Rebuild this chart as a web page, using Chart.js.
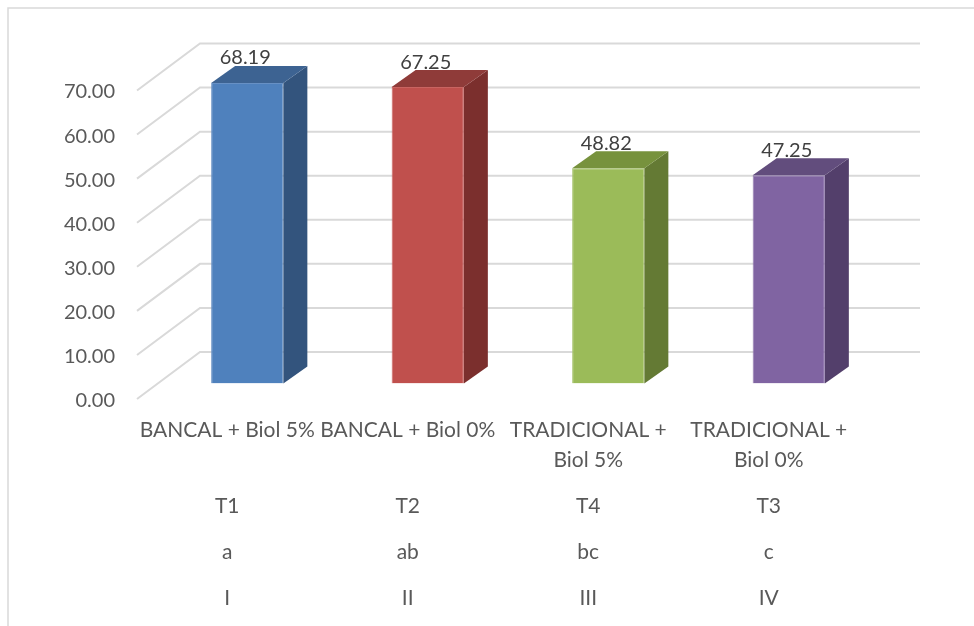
<!DOCTYPE html>
<html lang="es">
<head>
    <meta charset="utf-8" />
    <meta name="viewport" content="width=device-width" />
    <script src="https://cdn.jsdelivr.net/npm/chart.js@4.4.1/dist/chart.umd.min.js"></script>
    <style>
        html, body { margin: 0; padding: 0; background: #ffffff; }
        #box { position: relative; width: 974px; height: 626px; }
    </style>
    <script>
        // datos del grafico
        var categorias = [["BANCAL + Biol 5%"], ["BANCAL + Biol 0%"], ["TRADICIONAL +", "Biol 5%"], ["TRADICIONAL +", "Biol 0%"]];
        var tratamientos = ["T1", "T2", "T4", "T3"];
        var letras = ["a", "ab", "bc", "c"];
        var grupos = ["I", "II", "III", "IV"];
        var valores = [68.19, 67.25, 48.82, 47.25];
        var yTicks = [0, 10, 20, 30, 40, 50, 60, 70];

        // colores de las caras (frente, arriba, lado)
        var colFrente = ['#4F81BD', '#C0504D', '#9BBB59', '#8064A2'];
        var colBorde = ['#6790C4', '#C96461', '#A8C46E', '#9079AE'];
        var colArriba = ['#3D6392', '#8F3B39', '#77923D', '#624D7D'];
        var colLado = ['#33547D', '#7B2F2D', '#647A34', '#533F6B'];
    </script>
</head>
<body>
    <div id="box">
        <canvas id="grafico"></canvas>
    </div>

    <script>
        // etiquetas de varias filas: nombre, tratamiento, letra, grupo
        // (las lineas vacias sirven para separar las filas)
        var etiquetas = categorias.map(function (c, i) {
            return [c[0], '', c[1] || '', '', '', tratamientos[i], '', '', letras[i], '', '', grupos[i]];
        });

        // profundidad de la perspectiva
        var DX = 24, DY = -17;          // barra
        var BACK_DX = 63, BACK_DY = -31.5, FRONT_DY = 15.5;

        const marco = {
            id: 'marco',
            beforeDraw(chart) {
                const c = chart.ctx;
                c.save();
                c.strokeStyle = '#D9D9D9';
                c.lineWidth = 1.5;
                c.strokeRect(8, 8, 1200, 1200);
                c.restore();
            }
        };

        // rejilla en perspectiva (pared del fondo + diagonales)
        const rejilla = {
            id: 'rejilla',
            beforeDatasetsDraw(chart) {
                const c = chart.ctx, y = chart.scales.y;
                const left = chart.chartArea.left;
                c.save();
                c.strokeStyle = '#D9D9D9';
                c.lineWidth = 2;
                yTicks.forEach(function (v) {
                    const py = y.getPixelForValue(v);
                    c.beginPath();
                    c.moveTo(left - 20, py + FRONT_DY);
                    c.lineTo(left - 20 + BACK_DX, py + BACK_DY);
                    c.lineTo(920, py + BACK_DY);
                    c.stroke();
                });
                c.restore();
            }
        };

        // caras 3D y etiquetas de datos
        const caras = {
            id: 'caras',
            afterDatasetsDraw(chart) {
                const c = chart.ctx;
                const meta = chart.getDatasetMeta(0);
                c.save();
                meta.data.forEach(function (bar, i) {
                    const p = bar.getProps(['x', 'y', 'base', 'width'], true);
                    const l = p.x - p.width / 2, r = p.x + p.width / 2;
                    // lado
                    c.fillStyle = colLado[i];
                    c.beginPath();
                    c.moveTo(r, p.y);
                    c.lineTo(r + DX, p.y + DY);
                    c.lineTo(r + DX, p.base + DY);
                    c.lineTo(r, p.base);
                    c.closePath();
                    c.fill();
                    // arriba
                    c.fillStyle = colArriba[i];
                    c.beginPath();
                    c.moveTo(l, p.y);
                    c.lineTo(l + DX, p.y + DY);
                    c.lineTo(r + DX, p.y + DY);
                    c.lineTo(r, p.y);
                    c.closePath();
                    c.fill();
                });
                c.fillStyle = '#404040';
                c.font = '20px Lato';
                c.textAlign = 'center';
                c.textBaseline = 'middle';
                meta.data.forEach(function (bar, i) {
                    c.fillText(valores[i].toFixed(2), bar.x - 2, bar.y - 25);
                });
                c.restore();
            }
        };

        const ctx = document.getElementById('grafico');
        const grafico = new Chart(ctx, {
            type: 'bar',
            data: {
                labels: etiquetas,
                datasets: [{
                    data: valores,
                    backgroundColor: colFrente,
                    borderColor: colBorde,
                    borderWidth: 1,
                    barPercentage: 0.4,
                    categoryPercentage: 1
                }]
            },
            options: {
                responsive: true,
                maintainAspectRatio: false,
                animation: false,
                layout: { padding: { top: 75, right: 95, left: 0, bottom: 0 } },
                plugins: {
                    legend: { display: false },
                    tooltip: { enabled: false }
                },
                scales: {
                    x: {
                        grid: { display: false, drawTicks: false },
                        border: { display: false },
                        ticks: {
                            autoSkip: false,
                            maxRotation: 0,
                            minRotation: 0,
                            padding: 39,
                            labelOffset: -20,
                            color: '#595959',
                            font: { family: 'Lato', size: 21, lineHeight: '15.25px' }
                        },
                        afterFit: function (s) { s.height = 242.5; }
                    },
                    y: {
                        min: 0,
                        max: 70,
                        grid: { display: false, drawTicks: false },
                        border: { display: false },
                        ticks: {
                            stepSize: 10,
                            padding: 42,
                            labelOffset: 17,
                            color: '#595959',
                            font: { family: 'Lato', size: 20 },
                            callback: function (v) { return v.toFixed(2); }
                        },
                        afterFit: function (s) { s.width = 157; }
                    }
                }
            },
            plugins: [marco, rejilla, caras]
        });
    </script>
</body>
</html>
